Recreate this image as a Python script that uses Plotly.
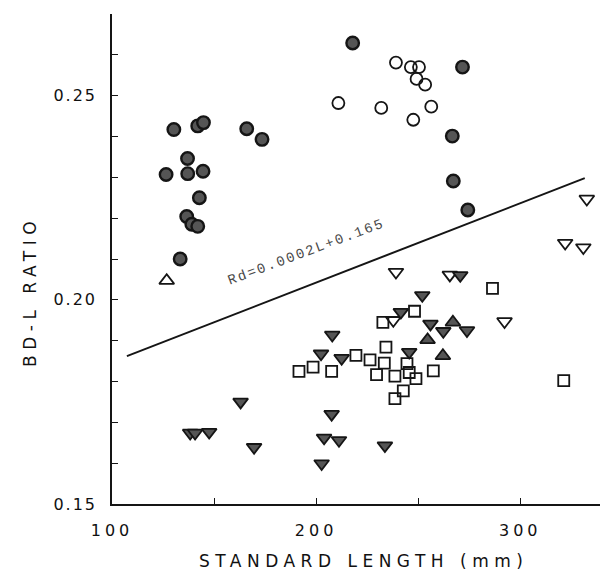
import plotly.graph_objects as go

# ---- data ----
fc_x = [217.9, 130.3, 142.0, 144.8, 166.0, 173.5, 137.0, 126.5, 137.1, 144.6, 142.8,
        136.6, 139.1, 142.0, 133.4, 271.7, 266.7, 267.2, 274.3]
fc_y = [0.2629, 0.2417, 0.2426, 0.2434, 0.2419, 0.2393, 0.2346, 0.2307, 0.2309, 0.2315, 0.2250,
        0.2204, 0.2185, 0.2180, 0.2100, 0.2570, 0.2401, 0.2291, 0.2220]

oc_x = [239.1, 246.4, 250.4, 249.2, 253.4, 231.9, 256.4, 247.6, 210.9]
oc_y = [0.2581, 0.2570, 0.2570, 0.2541, 0.2527, 0.2470, 0.2473, 0.2441, 0.2482]

out_x = [126.8]
out_y = [0.2047]

odt_x = [332.6, 322.0, 330.9, 239.1, 265.5, 237.8, 292.3]
odt_y = [0.2247, 0.2139, 0.2128, 0.2068, 0.2061, 0.1950, 0.1947]

fdt_x = [270.6, 252.0, 241.5, 256.0, 262.3, 273.9, 245.6, 207.9, 202.4, 212.5,
         138.3, 140.7, 147.6, 163.0, 169.6, 207.6, 203.9, 211.2, 202.7, 233.7]
fdt_y = [0.2060, 0.2011, 0.1970, 0.1941, 0.1923, 0.1925, 0.1872, 0.1914, 0.1868, 0.1857,
         0.1674, 0.1674, 0.1676, 0.1750, 0.1639, 0.1720, 0.1662, 0.1656, 0.1599, 0.1643]

fut_x = [267.0, 254.6, 262.1]
fut_y = [0.1945, 0.1902, 0.1863]

sq_x = [286.4, 248.2, 232.7, 234.2, 219.5, 226.4, 233.4, 244.5, 229.6, 238.6,
        245.6, 248.9, 257.4, 242.7, 238.6, 321.3, 191.6, 198.5, 207.6]
sq_y = [0.2028, 0.1972, 0.1945, 0.1884, 0.1864, 0.1853, 0.1845, 0.1844, 0.1817, 0.1813,
        0.1822, 0.1807, 0.1826, 0.1777, 0.1758, 0.1802, 0.1825, 0.1835, 0.1825]

reg_x = [107.3, 331.6]
reg_y = [0.1862, 0.2298]
reg_label = "Rd=0.0002L+0.165"
reg_label_x = 195.1
reg_label_y = 0.2117

x_tickvals = [100, 150, 200, 250, 300]
x_ticktext = ["100", "", "200", "", "300"]
y_tickvals = [0.15, 0.16, 0.17, 0.18, 0.19, 0.20, 0.21, 0.22, 0.23, 0.24, 0.25, 0.26, 0.27]
y_ticktext = ["0.15", "", "", "", "", "0.20", "", "", "", "", "0.25", "", ""]

x_title = "STANDARD LENGTH (mm)"
y_title = "BD-L RATIO"

# ---- figure ----
DARK = "#555555"
INK = "#151515"
CLEAR = "rgba(0,0,0,0)"

fig = go.Figure()
fig.add_trace(go.Scatter(x=reg_x, y=reg_y, mode="lines",
                         line=dict(color=INK, width=2), hoverinfo="skip"))

def add_pts(x, y, symbol, fill, size, lw):
    fig.add_trace(go.Scatter(x=x, y=y, mode="markers",
                             marker=dict(symbol=symbol, color=fill, size=size,
                                         line=dict(color=INK, width=lw))))

add_pts(sq_x, sq_y, "square", CLEAR, 11, 1.8)
add_pts(odt_x, odt_y, "triangle-down", CLEAR, 13, 1.8)
add_pts(out_x, out_y, "triangle-up", CLEAR, 13, 1.8)
add_pts(fdt_x, fdt_y, "triangle-down", DARK, 13, 1.8)
add_pts(fut_x, fut_y, "triangle-up", DARK, 13, 1.8)
add_pts(oc_x, oc_y, "circle", CLEAR, 12, 1.8)
add_pts(fc_x, fc_y, "circle", DARK, 12.5, 2.4)

axis_common = dict(showline=True, linecolor=INK, linewidth=1.5, ticks="inside",
                   ticklen=6, tickwidth=1.2, tickcolor=INK, showgrid=False,
                   zeroline=False, mirror=False,
                   tickfont=dict(family="DejaVu Sans", size=16, color="#111111"))

fig.update_xaxes(range=[100, 346.9], tickmode="array", tickvals=x_tickvals,
                 ticktext=x_ticktext, ticklabelstandoff=11, **axis_common)
fig.update_yaxes(range=[0.15, 0.27], tickmode="array", tickvals=y_tickvals,
                 ticktext=y_ticktext, ticklabelstandoff=10, **axis_common)

fig.add_annotation(x=0.4995, y=-0.117, xref="paper", yref="paper", text=x_title,
                   showarrow=False, xanchor="center", yanchor="middle",
                   font=dict(family="DejaVu Sans", size=17, color="#111111"))
fig.add_annotation(x=-0.1635, y=0.433, xref="paper", yref="paper", text=y_title,
                   showarrow=False, xanchor="center", yanchor="middle", textangle=-90,
                   font=dict(family="DejaVu Sans", size=17, color="#111111"))
fig.add_annotation(x=reg_label_x, y=reg_label_y, xref="x", yref="y", text=reg_label,
                   showarrow=False, xanchor="center", yanchor="middle", textangle=-20.5,
                   font=dict(family="Liberation Mono", size=14, color="#4a4a4a"))

fig.update_layout(width=608, height=572, showlegend=False,
                  plot_bgcolor="white", paper_bgcolor="white",
                  margin=dict(l=103.5, r=0, t=6, b=76))

post = """
var gd = document.getElementById('{plot_id}');
function sp(sel, v){ gd.querySelectorAll(sel).forEach(function(e){ e.style.letterSpacing = v; }); }
sp('.xtick text', '4px');
sp('.ytick text', '2px');
var ann = gd.querySelectorAll('.annotation-text');
if (ann.length >= 3) {
  ann[0].style.letterSpacing = '5.5px';
  ann[1].style.letterSpacing = '5.5px';
  ann[2].style.letterSpacing = '2px';
}
"""

fig.write_html("out.html", post_script=post)
